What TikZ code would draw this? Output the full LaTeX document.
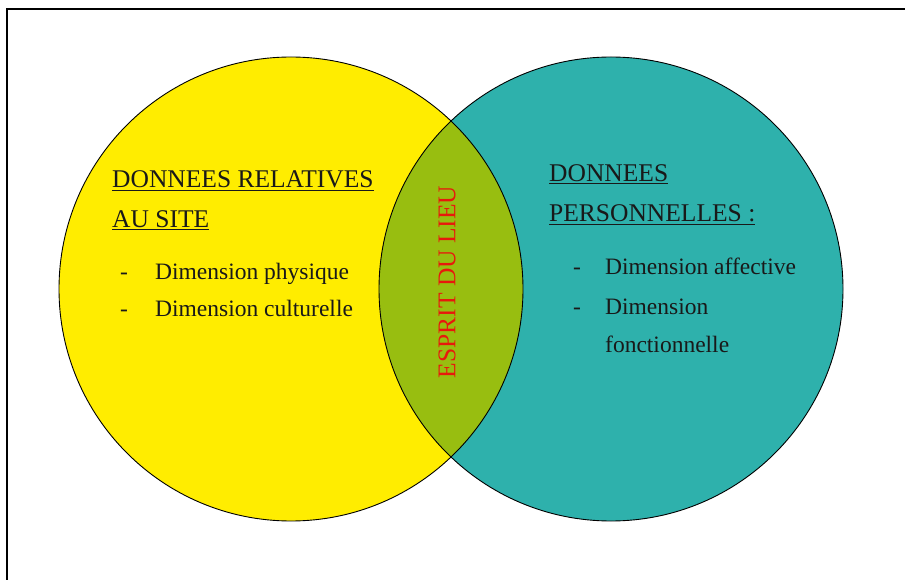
\documentclass[tikz,border=0pt]{standalone}
\usepackage{fontspec}
\setmainfont{Liberation Serif}
\definecolor{geel}{RGB}{255,237,0}
\definecolor{turkoois}{RGB}{46,177,172}
\definecolor{olijf}{RGB}{152,190,16}
\definecolor{rood}{RGB}{232,24,12}
\tikzset{
	tekst/.style = {font=\fontsize{23.5}{28}\selectfont, inner sep=0pt, anchor=base west, text=black!90},
	kop/.style = {font=\fontsize{25.5}{30}\selectfont, inner sep=0pt, anchor=base west, text=black!90}
}
\begin{document}
\begin{tikzpicture}[x = 1pt, y = 1pt]
	%	kader
	\useasboundingbox (0, 0) rectangle (905, 579);
	\draw[line width = 2pt] (7, -10) |- (915, 570);
	
	%	cirkels
	\def\r{232}
	\coordinate (links) at (291, 290);
	\coordinate (rechts) at (611, 290);
	\fill[geel] (links) circle (\r);
	\fill[turkoois] (rechts) circle (\r);
	\begin{scope}
		\clip (links) circle (\r);
		\fill[olijf] (rechts) circle (\r);
	\end{scope}
	\draw[line width = 0.9pt] (links) circle (\r);
	\draw[line width = 0.9pt] (rechts) circle (\r);
	
	%	site
	\node[kop] (site1) at (112, 391) {\underline{DONNEES RELATIVES}};
	\node[kop] (site2) at (112, 351) {\underline{AU SITE}};
	\node[tekst] (streep1) at (120, 299) {-};
	\node[tekst] (fysiek) at (155, 299) {Dimension physique};
	\node[tekst] (streep2) at (120, 262) {-};
	\node[tekst] (cultuur) at (155, 262) {Dimension culturelle};
	
	%	persoonlijk
	\node[kop] (pers1) at (549, 397) {\underline{DONNEES}};
	\node[kop] (pers2) at (549, 357) {\underline{PERSONNELLES :}};
	\node[tekst] (streep3) at (573, 304) {-};
	\node[tekst] (affect) at (605, 304) {Dimension affective};
	\node[tekst] (streep4) at (573, 264) {-};
	\node[tekst] (functie) at (605, 264) {Dimension};
	\node[tekst] (functie2) at (605, 226) {fonctionnelle};
	
	%	lens
	\node[font=\fontsize{25.5}{30}\selectfont, text=rood, rotate=90, inner sep=0pt] (geest) at (447, 297) {ESPRIT DU LIEU};
\end{tikzpicture}
\end{document}
